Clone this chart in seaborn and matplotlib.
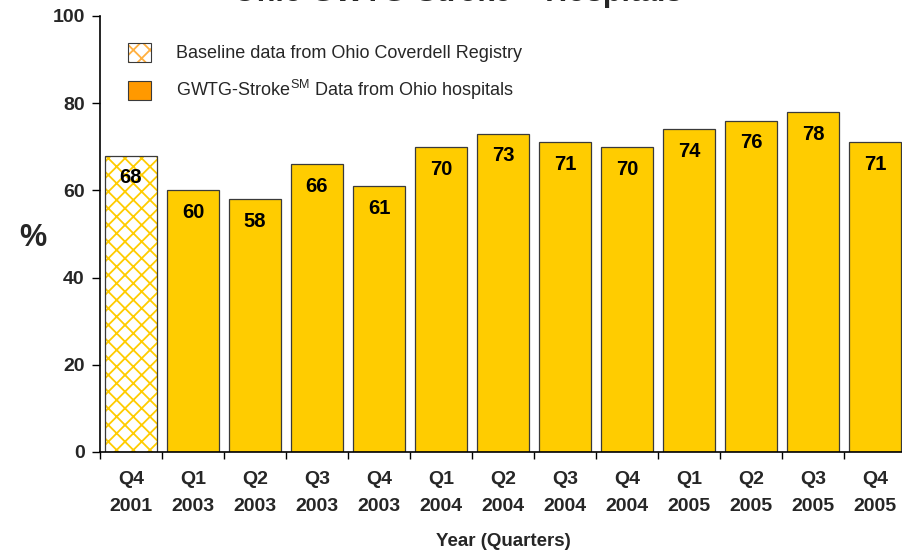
import matplotlib
matplotlib.use("Agg")
import matplotlib.pyplot as plt
import matplotlib.colors as mcolors
from matplotlib.patches import Patch
import seaborn as sns
import pandas as pd
import numpy as np

# Quarterly percentages: first bar is the Coverdell baseline, the rest GWTG-Stroke data
quarters = ["Q4\n2001", "Q1\n2003", "Q2\n2003", "Q3\n2003", "Q4\n2003",
            "Q1\n2004", "Q2\n2004", "Q3\n2004", "Q4\n2004",
            "Q1\n2005", "Q2\n2005", "Q3\n2005", "Q4\n2005"]
percent = [68, 60, 58, 66, 61, 70, 73, 71, 70, 74, 76, 78, 71]
legend_labels = ["Baseline data from Ohio Coverdell Registry",
                 "GWTG-Stroke$^{\\mathrm{SM}}$ Data from Ohio hospitals"]

sns.set_theme(style="white")
plt.rcParams["font.family"] = ["Liberation Sans", "DejaVu Sans"]
plt.rcParams["mathtext.fontset"] = "custom"
plt.rcParams["mathtext.rm"] = "Liberation Sans"
plt.rcParams["hatch.linewidth"] = 1.3

GOLD = "#FFCC00"
ORANGE = "#FF9900"
EDGE = "#3a3a3a"

W, H = 903, 553
fig = plt.figure(figsize=(W / 100, H / 100), dpi=100)
ax = fig.add_axes([100 / W, 1 - 452 / H, 806 / W, 436 / H])

df = pd.DataFrame({"quarter": quarters, "percent": percent})
sns.barplot(data=df, x="quarter", y="percent", color=GOLD, saturation=1,
            width=0.84, edgecolor=EDGE, linewidth=0.9, ax=ax)

# Baseline bar: white fill with a gold cross-hatch
base = ax.patches[0]
base.set_facecolor("white")
base.set_hatch("xx")
if hasattr(base, "set_hatchcolor"):
    base.set_hatchcolor(GOLD)
else:
    base._hatch_color = mcolors.to_rgba(GOLD)

# Value labels inside the top of each bar
for i, v in enumerate(percent):
    ax.annotate(f"{v:d}", xy=(i, v), xytext=(0, -16), textcoords="offset points",
                ha="center", va="center", fontsize=14.5, fontweight="bold",
                color="black")

ax.set_xlim(-0.5, 12.5)
ax.set_ylim(0, 100)
ax.set_yticks([0, 20, 40, 60, 80, 100])
ax.tick_params(axis="y", which="major", direction="out", length=6, width=1,
               color="black", labelsize=14, pad=5, left=True)
for t in ax.get_yticklabels():
    t.set_fontweight("bold")

# x ticks sit between categories; labels at category centres
ax.set_xticks(np.arange(-0.5, 13.0, 1.0), minor=True)
ax.tick_params(axis="x", which="minor", direction="out", length=5, width=1,
               color="black", bottom=True)
ax.tick_params(axis="x", which="major", length=0, pad=14, labelsize=14)
for t in ax.get_xticklabels():
    t.set_fontweight("bold")
    t.set_linespacing(1.75)

for side in ["top", "right"]:
    ax.spines[side].set_visible(False)
for side in ["left", "bottom"]:
    ax.spines[side].set_color("black")
    ax.spines[side].set_linewidth(1.2)

ax.set_xlabel("Year (Quarters)", fontsize=13.5, fontweight="bold", labelpad=13)
ax.set_ylabel("%", fontsize=22, fontweight="bold", rotation=0, va="center")
ax.yaxis.set_label_coords(-0.083, 0.49)

# Legend
h_base = Patch(facecolor="white", edgecolor=EDGE, linewidth=0.8, hatch="xx")
if hasattr(h_base, "set_hatchcolor"):
    h_base.set_hatchcolor("#FFB040")
else:
    h_base._hatch_color = mcolors.to_rgba("#FFB040")
h_gwtg = Patch(facecolor=ORANGE, edgecolor=EDGE, linewidth=0.8)
ax.legend([h_base, h_gwtg], legend_labels, loc="upper left",
          bbox_to_anchor=(0.014, 0.975), frameon=False, fontsize=13,
          handlelength=1.3, handleheight=1.2, handletextpad=1.4,
          labelspacing=0.88, borderpad=0.4)

# Title (runs off the top edge of the canvas)
fig.text(0.507, 1 - 1 / H, "Ohio GWTG-Stroke – Hospitals", ha="center",
         va="baseline", fontsize=22, fontweight="bold")

fig.savefig("out.png", dpi=100)
